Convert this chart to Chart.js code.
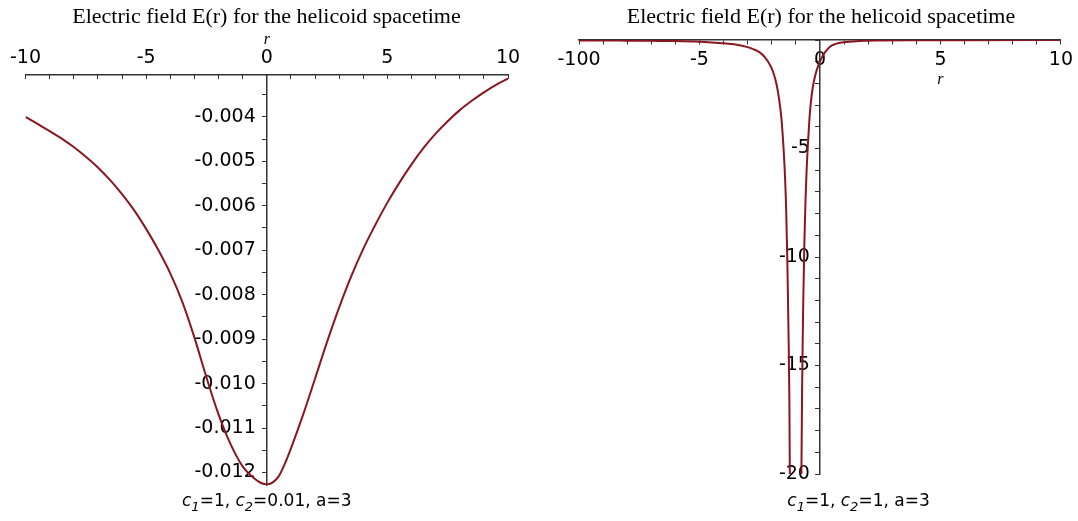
<!DOCTYPE html>
<html><head><meta charset="utf-8">
<script src="https://cdn.jsdelivr.net/npm/chart.js@4.4.1/dist/chart.umd.min.js"></script>
<style>
html,body{margin:0;padding:0;background:#fff;}
#wrap{position:relative;width:1078px;height:521px;overflow:hidden;}
canvas{position:absolute;top:0;}
</style></head><body>
<div id="wrap">
<canvas id="c1" width="539" height="521" style="left:0"></canvas>
<canvas id="c2" width="539" height="521" style="left:539px"></canvas>
</div>
<script>
const titleText = 'Electric field E(r) for the helicoid spacetime';
const axisName = 'r';

// Left panel (c1=1, c2=0.01, a=3)
const rLeft = [-10,-9.5,-9,-8.5,-8,-7.5,-7,-6.5,-6,-5.5,-5,-4.5,-4,-3.5,-3,-2.5,-2,-1.5,-1,-0.5,-0.25,0,0.25,0.5,0.75,1,1.5,2,2.5,3,3.5,4,4.5,5,5.5,6,6.5,7,7.5,8,8.5,9,9.5,10];
const eLeft = [-0.00400,-0.00416,-0.00432,-0.00449,-0.00468,-0.00490,-0.00514,-0.00542,-0.00574,-0.00610,-0.00652,-0.00699,-0.00752,-0.00816,-0.00896,-0.00986,-0.01069,-0.01136,-0.01186,-0.01214,-0.01223,-0.01227,-0.01222,-0.01208,-0.01180,-0.01146,-0.01071,-0.00989,-0.00906,-0.00829,-0.00759,-0.00697,-0.00643,-0.00593,-0.00548,-0.00507,-0.00470,-0.00438,-0.00410,-0.00385,-0.00364,-0.00345,-0.00328,-0.00314];
const leftXTickValues = [-10,-5,0,5,10];
const leftXTickLabels = ['-10','-5','0','5','10'];
const leftYTickValues = [-0.004,-0.005,-0.006,-0.007,-0.008,-0.009,-0.010,-0.011,-0.012];
const leftYTickLabels = ['-0.004','-0.005','-0.006','-0.007','-0.008','-0.009','-0.010','-0.011','-0.012'];
const leftCaption = [['c','i'],['1','s'],['=1, ',''],['c','i'],['2','s'],['=0.01, a=3','']];

// Right panel (c1=1, c2=1, a=3); null = break between the two branches (off-scale below -20)
const rRight = [-10,-9,-8,-7,-6,-5,-4.5,-4,-3.5,-3,-2.75,-2.5,-2.3,-2.1,-1.95,-1.8,-1.7,-1.6,-1.5,-1.45,-1.4,-1.35,-1.3,-1.27,-1.25,-1.0,-0.77,-0.74,-0.7,-0.65,-0.6,-0.55,-0.5,-0.44,-0.38,-0.3,-0.2,-0.1,0,0.1,0.23,0.4,0.65,1,1.6,2.5,4,6,10];
const eRight = [-0.02,-0.02,-0.03,-0.04,-0.05,-0.08,-0.11,-0.15,-0.21,-0.33,-0.43,-0.57,-0.78,-1.1,-1.45,-2.05,-2.7,-3.6,-5.2,-6.3,-7.9,-10.4,-13.8,-16.5,-20,null,-20,-16,-12.5,-9.5,-7.4,-5.9,-4.8,-3.7,-2.9,-2.2,-1.65,-1.27,-1.0,-0.76,-0.54,-0.32,-0.18,-0.1,-0.05,-0.025,-0.012,-0.008,-0.004];
const rightXTickValues = [-10,-5,0,5,10];
const rightXTickLabels = ['-100','-5','0','5','10'];
const rightYTickValues = [-5,-10,-15,-20];
const rightYTickLabels = ['-5','-10','-15','-20'];
const rightCaption = [['c','i'],['1','s'],['=1, ',''],['c','i'],['2','s'],['=1, a=3','']];

const CURVE = 'rgb(138,22,34)';
const AXIS = '#333333';
const SANS = 'DejaVu Sans';
const SERIF = 'Liberation Serif';
Chart.defaults.font.family = SANS;
Chart.defaults.color = '#000';

function labeler(values, labels){
  return function(v){
    for (let i=0;i<values.length;i++){
      if (Math.abs(values[i]-v) < 1e-9) return labels[i];
    }
    return '';
  };
}

const captionPlugin = {
  id: 'caption',
  afterDraw(chart, args, opts){
    const ctx = chart.ctx;
    const xs = chart.scales.x;
    const size = opts.size;
    const fontFor = (t) => t === 'i' ? `italic ${size}px ${SANS}` : t === 's' ? `italic ${Math.round(size*0.75)}px ${SANS}` : `${size}px ${SANS}`;
    ctx.save();
    ctx.fillStyle = '#000';
    ctx.textBaseline = 'alphabetic';
    ctx.textAlign = 'left';
    let total = 0;
    for (const [t, s] of opts.segments){ ctx.font = fontFor(s); total += ctx.measureText(t).width; }
    let x = xs.getPixelForValue(opts.centerValue) - total/2;
    const y = opts.baseline;
    for (const [t, s] of opts.segments){
      ctx.font = fontFor(s);
      ctx.fillText(t, x, s === 's' ? y + size*0.3 : y);
      x += ctx.measureText(t).width;
    }
    if (opts.axisLabel){
      ctx.font = `italic 16px ${SERIF}`;
      ctx.textAlign = 'center';
      ctx.textBaseline = 'middle';
      ctx.fillText(opts.axisLabel.text, xs.getPixelForValue(opts.axisLabel.value), chart.chartArea.top + opts.axisLabel.dy);
    }
    ctx.restore();
  }
};

const TITLE_SIZE = 22;
const TITLE_H = 4 + TITLE_SIZE*1.2;

function makeData(rs, es){
  return {datasets:[{
    data: rs.map((r,i)=>({x:r, y:es[i]})),
    borderColor: CURVE, borderWidth: 2, pointRadius: 0, fill: false,
    cubicInterpolationMode: 'monotone', spanGaps: false
  }]};
}

new Chart(document.getElementById('c1'), {
  type: 'line',
  data: makeData(rLeft, eLeft),
  options: {
    responsive: false, animation: false, events: [],
    layout: {padding: {left: 25, right: 31, top: 0, bottom: 36}},
    plugins: {
      legend: {display: false}, tooltip: {enabled: false},
      title: {display: true, text: titleText, color: '#000', font: {family: SERIF, size: TITLE_SIZE, weight: 'normal'}, padding: {top: 4, bottom: 0}},
      caption: {segments: leftCaption, size: 17, centerValue: 0, baseline: 506}
    },
    scales: {
      x: {
        type: 'linear', position: 'top', min: -10, max: 10,
        afterFit: (s) => { s.height = 75 - TITLE_H; },
        ticks: {stepSize: 1, autoSkip: false, maxRotation: 0, padding: 10, font: {size: 19}, color: '#000',
          callback: labeler(leftXTickValues, leftXTickLabels)},
        grid: {drawOnChartArea: false, tickLength: -4, color: AXIS, lineWidth: 1},
        border: {color: AXIS, width: 1.5},
        title: {display: true, text: axisName, color: '#000', font: {family: SERIF, style: 'italic', size: 16}, padding: {top: 0, bottom: 0}}
      },
      y: {
        type: 'linear', position: 'center', min: -0.01228, max: -0.00306,
        ticks: {stepSize: 0.0005, autoSkip: false, includeBounds: false, maxTicksLimit: 1000, padding: 7, font: {size: 19}, color: '#000',
          callback: labeler(leftYTickValues, leftYTickLabels)},
        grid: {drawOnChartArea: false, tickLength: 4, color: AXIS, lineWidth: 1},
        border: {color: AXIS, width: 1.5}
      }
    }
  },
  plugins: [captionPlugin]
});

new Chart(document.getElementById('c2'), {
  type: 'line',
  data: makeData(rRight, eRight),
  options: {
    responsive: false, animation: false, events: [],
    layout: {padding: {left: 40, right: 15, top: 0, bottom: 47}},
    plugins: {
      legend: {display: false}, tooltip: {enabled: false},
      title: {display: true, text: titleText, color: '#000', font: {family: SERIF, size: TITLE_SIZE, weight: 'normal'}, padding: {top: 4, bottom: 40 - TITLE_H}},
      caption: {segments: rightCaption, size: 17, centerValue: 1.6, baseline: 506, axisLabel: {text: axisName, value: 5, dy: 40}}
    },
    scales: {
      x: {
        type: 'linear', position: {y: 0}, min: -10, max: 10,
        ticks: {stepSize: 1, autoSkip: false, maxRotation: 0, padding: 5, font: {size: 19}, color: '#000',
          callback: labeler(rightXTickValues, rightXTickLabels)},
        grid: {drawOnChartArea: false, tickLength: 4, color: AXIS, lineWidth: 1},
        border: {color: AXIS, width: 1.5}
      },
      y: {
        type: 'linear', position: 'center', min: -20, max: 0,
        ticks: {stepSize: 1, autoSkip: false, includeBounds: false, maxTicksLimit: 1000, padding: 6, font: {size: 19}, color: '#000',
          callback: labeler(rightYTickValues, rightYTickLabels)},
        grid: {drawOnChartArea: false, tickLength: 4, color: AXIS, lineWidth: 1},
        border: {color: AXIS, width: 1.5}
      }
    }
  },
  plugins: [captionPlugin]
});
</script>
</body></html>
